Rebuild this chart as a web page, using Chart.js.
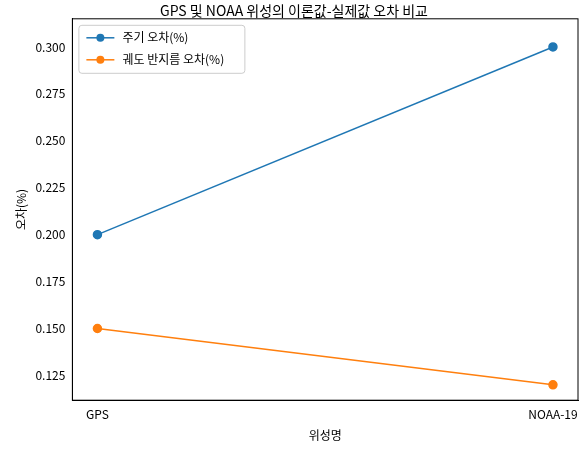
<!DOCTYPE html>
<html><head><meta charset="utf-8">
<script src="https://cdn.jsdelivr.net/npm/chart.js@4"></script>
<style>body{margin:0;background:#fff}#w{width:587px;height:454px}</style>
</head><body><div id="w"><canvas id="c"></canvas></div>
<script>
const categories=["GPS","NOAA-19"];
const periodErr=[0.200,0.300];
const radiusErr=[0.150,0.120];
const seriesNames=["주기 오차(%)","궤도 반지름 오차(%)"];
const colors=["#1f77b4","#ff7f0e"];
const font="'Noto Sans CJK KR','Noto Sans',sans-serif";
const legendPlugin={id:'lg',afterDraw(ch){const ctx=ch.ctx,a=ch.chartArea;const x=a.left+6,y=a.top+6;ctx.save();
ctx.fillStyle='rgba(255,255,255,0.8)';ctx.strokeStyle='#ccc';ctx.lineWidth=1;ctx.beginPath();ctx.roundRect(x+0.5,y+0.5,166,48,3);ctx.fill();ctx.stroke();
ctx.font="12px "+font;ctx.textBaseline='middle';
seriesNames.forEach((n,i)=>{const yy=y+13+i*22;ctx.strokeStyle=colors[i];ctx.lineWidth=1.5;ctx.beginPath();ctx.moveTo(x+8,yy);ctx.lineTo(x+36,yy);ctx.stroke();ctx.fillStyle=colors[i];ctx.beginPath();ctx.arc(x+22,yy,4,0,7);ctx.fill();ctx.fillStyle='#000';ctx.fillText(n,x+44,yy);});
ctx.restore();}};
new Chart(document.getElementById('c'),{type:'line',
data:{datasets:[periodErr,radiusErr].map((d,i)=>({label:seriesNames[i],data:d.map((v,j)=>({x:j,y:v})),borderColor:colors[i],backgroundColor:colors[i],borderWidth:1.5,pointRadius:4,pointHoverRadius:4}))},
options:{responsive:true,maintainAspectRatio:false,animation:false,
layout:{padding:{left:10,right:9,top:0,bottom:7}},
plugins:{legend:{display:false},tooltip:{enabled:false},title:{display:true,text:'GPS 및 NOAA 위성의 이론값-실제값 오차 비교',color:'#000',font:{family:font,size:14,weight:'normal'},padding:{top:2,bottom:0}}},
scales:{x:{type:'linear',min:-0.055,max:1.055,afterBuildTicks:s=>{s.ticks=[{value:0},{value:1}]},ticks:{callback:v=>categories[v],color:'#000',font:{family:font,size:12}},grid:{display:false,drawTicks:true,tickLength:4},border:{color:'#000'},title:{display:true,text:'위성명',color:'#000',font:{family:font,size:12}}},
y:{min:0.1118,max:0.315,afterBuildTicks:s=>{s.ticks=[];for(let v=0.125;v<=0.3001;v+=0.025)s.ticks.push({value:+v.toFixed(3)})},ticks:{callback:v=>v.toFixed(3),color:'#000',font:{family:font,size:12}},grid:{display:false,tickLength:4},border:{color:'#000'},title:{display:true,text:'오차(%)',color:'#000',font:{family:font,size:12}}}}},
plugins:[legendPlugin,{id:'box',afterDraw(ch){const c=ch.ctx,a=ch.chartArea;c.save();c.strokeStyle='#000';c.lineWidth=1;c.strokeRect(a.left,a.top,a.right-a.left,a.bottom-a.top);c.restore();}}]});
</script></body></html>
